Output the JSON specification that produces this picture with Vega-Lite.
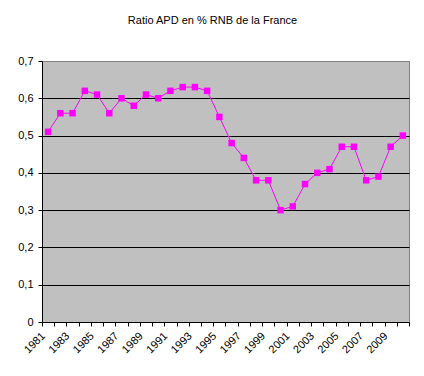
{
  "$schema": "https://vega.github.io/schema/vega-lite/v6.json",
  "autosize": {"type": "none"},
  "width": 367,
  "height": 261,
  "padding": {"left": 42, "top": 61, "right": 15, "bottom": 54},
  "background": "white",
  "title": {
    "text": "Ratio APD en % RNB de la France",
    "font": "Liberation Sans",
    "fontSize": 11,
    "fontWeight": "normal",
    "color": "black",
    "anchor": "middle",
    "dx": -13,
    "offset": 29
  },
  "config": {
    "view": {"fill": "#C0C0C0", "stroke": "#808080", "strokeWidth": 1},
    "axis": {
      "labelFont": "Liberation Sans",
      "labelFontSize": 11,
      "labelColor": "black",
      "domainColor": "black",
      "tickColor": "black",
      "title": null
    }
  },
  "data": {
    "values": [
      {"year": 1981, "ratio": 0.51},
      {"year": 1982, "ratio": 0.56},
      {"year": 1983, "ratio": 0.56},
      {"year": 1984, "ratio": 0.62},
      {"year": 1985, "ratio": 0.61},
      {"year": 1986, "ratio": 0.56},
      {"year": 1987, "ratio": 0.60},
      {"year": 1988, "ratio": 0.58},
      {"year": 1989, "ratio": 0.61},
      {"year": 1990, "ratio": 0.60},
      {"year": 1991, "ratio": 0.62},
      {"year": 1992, "ratio": 0.63},
      {"year": 1993, "ratio": 0.63},
      {"year": 1994, "ratio": 0.62},
      {"year": 1995, "ratio": 0.55},
      {"year": 1996, "ratio": 0.48},
      {"year": 1997, "ratio": 0.44},
      {"year": 1998, "ratio": 0.38},
      {"year": 1999, "ratio": 0.38},
      {"year": 2000, "ratio": 0.30},
      {"year": 2001, "ratio": 0.31},
      {"year": 2002, "ratio": 0.37},
      {"year": 2003, "ratio": 0.40},
      {"year": 2004, "ratio": 0.41},
      {"year": 2005, "ratio": 0.47},
      {"year": 2006, "ratio": 0.47},
      {"year": 2007, "ratio": 0.38},
      {"year": 2008, "ratio": 0.39},
      {"year": 2009, "ratio": 0.47},
      {"year": 2010, "ratio": 0.50}
    ]
  },
  "encoding": {
    "x": {
      "field": "year",
      "type": "ordinal",
      "scale": {"type": "band", "paddingInner": 0, "paddingOuter": 0},
      "axis": {
        "tickBand": "extent",
        "tickSize": 4,
        "labelAngle": -45,
        "labelAlign": "right",
        "labelBaseline": "middle",
        "labelPadding": 8,
        "labelOffset": -5,
        "labelOverlap": false,
        "labelExpr": "datum.value % 2 == 1 ? datum.label : ''",
        "grid": false
      }
    },
    "y": {
      "field": "ratio",
      "type": "quantitative",
      "scale": {"domain": [0, 0.7], "nice": false},
      "axis": {
        "values": [0, 0.1, 0.2, 0.3, 0.4, 0.5, 0.6, 0.7],
        "tickSize": 4,
        "labelPadding": 5,
        "labelExpr": "datum.value == 0 ? '0' : replace(format(datum.value, '.1f'), '.', ',')",
        "grid": true,
        "gridColor": {"condition": {"test": "datum.value >= 0.69", "value": "#808080"}, "value": "black"},
        "gridOpacity": 1,
        "gridWidth": 1,
        "domainColor": "black"
      }
    }
  },
  "layer": [
    {"mark": {"type": "line", "color": "#FF00FF", "strokeWidth": 1}},
    {"mark": {"type": "point", "shape": "square", "filled": true, "size": 42, "color": "#FF00FF", "opacity": 1}}
  ]
}
